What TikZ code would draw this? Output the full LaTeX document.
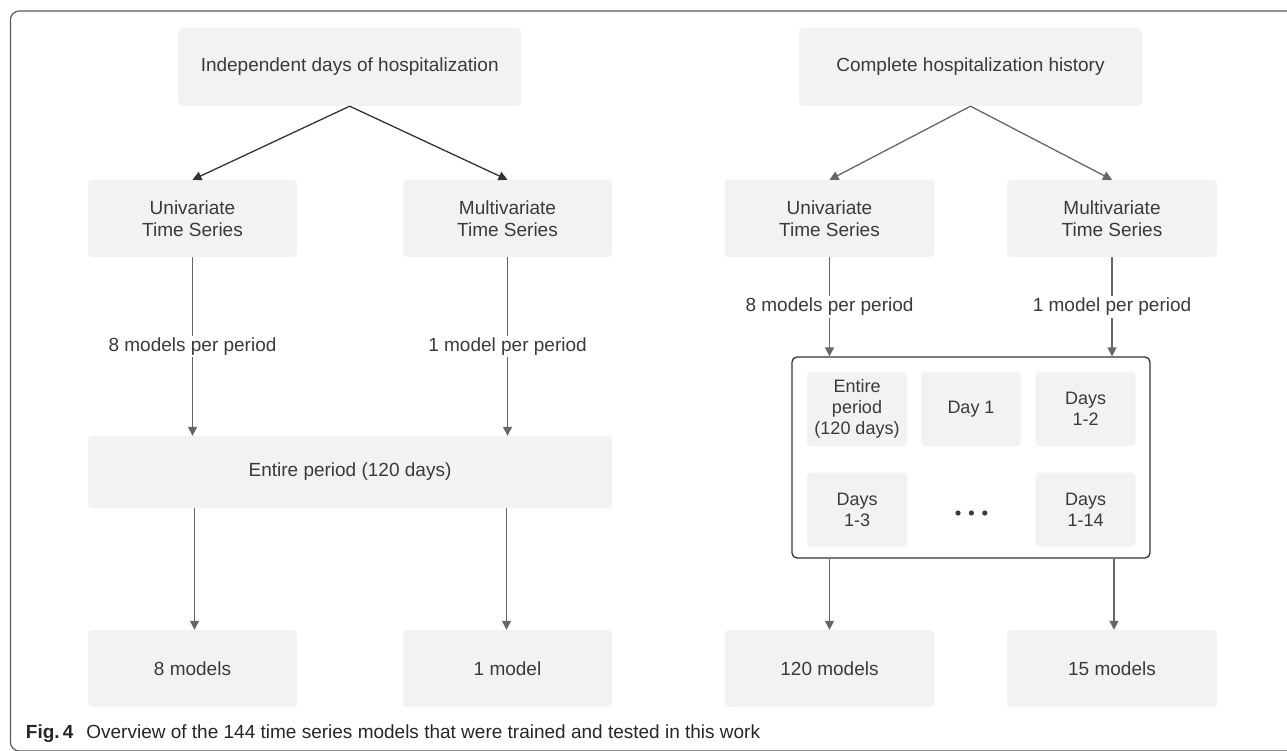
\documentclass[tikz,border=0pt]{standalone}
\usepackage{fontspec}
\setmainfont{Liberation Sans}
\usetikzlibrary{arrows.meta}
\definecolor{boxfill}{HTML}{F2F2F2}
\definecolor{txt}{HTML}{3A3A3A}
\definecolor{arr}{HTML}{666666}
\definecolor{arrdark}{HTML}{333333}
\definecolor{framec}{HTML}{5A5A5A}
\begin{document}
\begin{tikzpicture}[x=1pt,y=-1pt,
  box/.style={fill=boxfill, rounded corners=4pt, text=txt, align=center,
    font=\fontsize{19}{22}\selectfont, inner sep=0pt},
  small/.style={box, minimum width=100pt, minimum height=74pt, font=\fontsize{18}{21}\selectfont},
  conn/.style={draw=arr, line width=1.3pt, -{Triangle[length=9pt,width=9pt]}},
  conndark/.style={conn, draw=arrdark},
  lbl/.style={fill=white, text=txt, font=\fontsize{19}{22}\selectfont, inner sep=2pt}]
\useasboundingbox (0,0) rectangle (1287,751);
% outer frame
\draw[framec, line width=1.2pt, rounded corners=9pt] (1287,11) -- (10.4,11) -- (10.4,751) -- (1287,751);

% left tree
\node[box, minimum width=343pt, minimum height=78pt] (idh) at (349.7,67) {Independent days of hospitalization};
\node[box, minimum width=209pt, minimum height=77pt] (uL) at (192.5,218.5) {Univariate\\Time Series};
\node[box, minimum width=209pt, minimum height=77pt] (mL) at (507.5,218.5) {Multivariate\\Time Series};
\node[box, minimum width=524pt, minimum height=72pt] (ent) at (350,472) {Entire period (120 days)};
\node[box, minimum width=209pt, minimum height=77pt] (m8) at (192.5,668.5) {8 models};
\node[box, minimum width=209pt, minimum height=77pt] (m1) at (507.5,668.5) {1 model};

\draw[conndark] (idh.south) -- (uL.north);
\draw[conndark] (idh.south) -- (mL.north);
\draw[conn] (uL.south) -- node[lbl, midway] {8 models per period} (uL.south |- ent.north);
\draw[conn] (mL.south) -- node[lbl, midway] {1 model per period} (mL.south |- ent.north);
\draw[conn] ([xshift=2pt]m8.north |- ent.south) -- ([xshift=2pt]m8.north);
\draw[conn] ([xshift=-1pt]m1.north |- ent.south) -- ([xshift=-1pt]m1.north);

% right tree
\node[box, minimum width=343pt, minimum height=78pt] (chh) at (970.5,67) {Complete hospitalization history};
\node[box, minimum width=210pt, minimum height=77pt] (uR) at (829.5,218.5) {Univariate\\Time Series};
\node[box, minimum width=210pt, minimum height=77pt] (mR) at (1112,218.5) {Multivariate\\Time Series};
\node[draw=arrdark, line width=1.3pt, rounded corners=5pt, fill=white,
      minimum width=358pt, minimum height=201pt, inner sep=0pt] (cont) at (971,457.5) {};
\node[small] (e1) at (857,409) {Entire\\period\\(120 days)};
\node[small] (d1) at (971,409) {Day 1};
\node[small] (d12) at (1085.5,409) {Days\\1-2};
\node[small] (d13) at (857,509.5) {Days\\1-3};
\node[small] (d114) at (1085.5,509.5) {Days\\1-14};
\fill[txt] (958,513) circle (2.6pt) (971.4,513) circle (2.6pt) (984.8,513) circle (2.6pt);
\node[box, minimum width=210pt, minimum height=77pt] (m120) at (829.5,668.5) {120 models};
\node[box, minimum width=210pt, minimum height=77pt] (m15) at (1112,668.5) {15 models};

\draw[conn] (chh.south) -- (uR.north);
\draw[conn] (chh.south) -- (mR.north);
\draw[conn] (uR.south) -- node[lbl, midway] {8 models per period} (uR.south |- cont.north);
\draw[conn] (mR.south) -- node[lbl, midway] {1 model per period} (mR.south |- cont.north);
\draw[conn] (m120.north |- cont.south) -- (m120.north);
\draw[conn] ([xshift=2pt]m15.north |- cont.south) -- ([xshift=2pt]m15.north);

% caption
\node[anchor=base west, inner sep=0pt, text=black!85, font=\fontsize{19}{22}\selectfont] (cap) at (25.7,738)
  {\textbf{Fig.\,4}\hspace{13pt}Overview of the 144 time series models that were trained and tested in this work};
\end{tikzpicture}
\end{document}
